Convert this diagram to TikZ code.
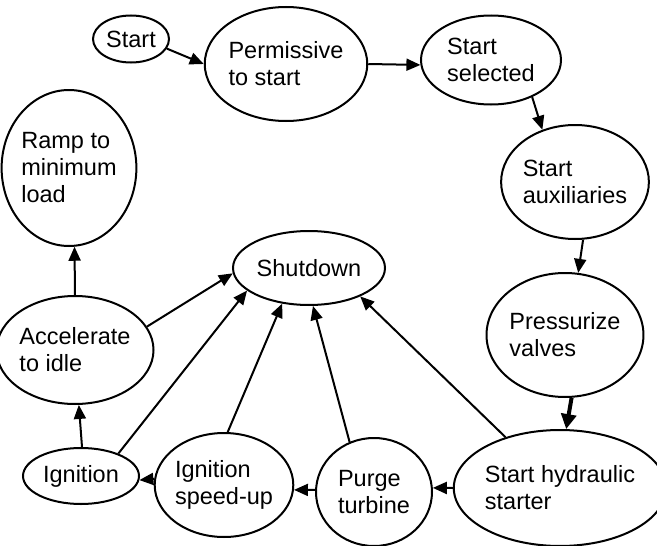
\documentclass[tikz,border=0pt]{standalone}
\usepackage{fontspec}
\setmainfont{Liberation Sans}
\usetikzlibrary{shapes.geometric,arrows.meta}
\tikzset{
  state/.style={draw, ellipse, line width=2pt, inner sep=0pt, align=left,
    font=\fontsize{23.5}{27}\selectfont},
  flow/.style={line width=2pt, -{Triangle[length=14pt,width=12pt]}},
  heavyflow/.style={line width=4pt, -{Triangle[length=15pt,width=15pt]}},
}
\begin{document}
\begin{tikzpicture}[x=1pt,y=-1pt]
\useasboundingbox (0,0) rectangle (657,546);

% states of the start-up sequence
\node[state, minimum width=76, minimum height=47] (start) at (131,39) {Start};
\node[state, minimum width=162, minimum height=114] (perm) at (286,64) {Permissive\\to start};
\node[state, minimum width=140, minimum height=89] (sel) at (491,60) {Start\\selected};
\node[state, minimum width=146, minimum height=114] (aux) at (575,182) {Start\\auxiliaries};
\node[state, minimum width=136, minimum height=124] (press) at (565,335) {Pressurize\\valves};
\node[state, minimum width=194, minimum height=116] (hyd) at (560,488) {Start hydraulic\\starter};
\node[state, minimum width=116, minimum height=108] (purge) at (374,492) {Purge\\turbine};
\node[state, minimum width=122, minimum height=104] (ignsp) at (224,485) {Ignition\\speed-up};
\node[state, minimum width=116, minimum height=56] (ign) at (81,476) {Ignition};
\node[state, minimum width=142, minimum height=108] (acc) at (75,350) {Accelerate\\to idle};
\node[state, minimum width=128, minimum height=156] (ramp) at (69,168) {Ramp to\\minimum\\load};
\node[state, minimum width=152, minimum height=74] (shut) at (309,268) {Shutdown};

% main sequence
\draw[flow] (start.-15) -- (perm.180);
\draw[flow] (perm.0) -- (sel.184);
\draw[flow] (sel.-42) -- (aux.122);
\draw[flow] (aux.-82) -- (press.78);
\draw[heavyflow] (press.-84) -- (hyd.84);
\draw[flow] (hyd.180) -- (purge.4);
\draw[flow] (purge.178) -- (ignsp.-4);
\draw[flow] (ignsp.175) -- (ign.-4);
\draw[flow] (ign.88) -- (acc.-86);
\draw[flow] (acc.north) -- (ramp.-86);

% trips to shutdown
\draw[flow] (acc.18) -- (shut.184);
\draw[flow] (ign.31) -- (shut.200);
\draw[flow] (ignsp.86) -- (shut.233);
\draw[flow] (purge.116) -- (shut.-84);
\draw[flow] (hyd.137) -- (shut.-29);
\end{tikzpicture}
\end{document}
